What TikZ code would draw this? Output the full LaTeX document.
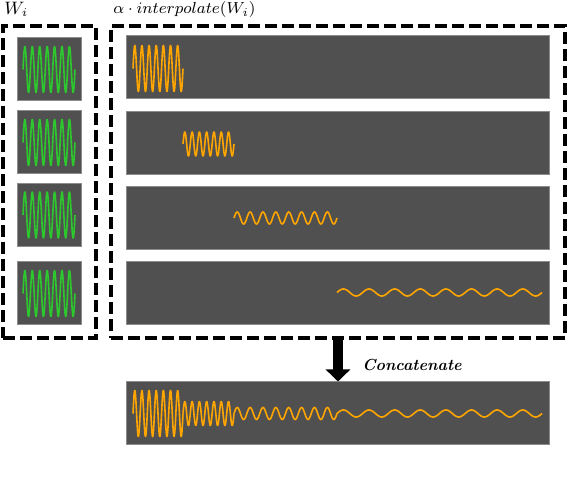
\documentclass[tikz,border=0pt]{standalone}
\usetikzlibrary{arrows.meta}

\definecolor{panelgray}{HTML}{505050}
\definecolor{panelline}{HTML}{8C8C8C}
\definecolor{siggreen}{HTML}{2DC82D}
\definecolor{sigorange}{HTML}{FFA500}

\tikzset{
  panel/.style={draw=panelline, line width=0.5pt, fill=panelgray, inner sep=0pt},
  smallpanel/.style={panel, minimum width=32pt, minimum height=31.5pt},
  widepanel/.style={panel, minimum width=211.5pt, minimum height=31.5pt},
  dashbox/.style={draw=black, line width=2pt, dash pattern=on 6pt off 2.5pt, inner sep=0pt},
  lbl/.style={font=\fontsize{8}{10}\selectfont, inner sep=0pt},
  bigarrow/.style={line width=5pt, -{Triangle[width=12pt,length=6pt]}},
}

% colour, x start, x end, centre y, amplitude, cycles
\newcommand{\sigwave}[6]{%
  \draw[#1, line width=0.8pt, line join=round]
    plot[domain=#2:#3, samples=250] (\x,{#4-#5*sin(360*#6/(#3-#2)*(\x-#2))});
}

\begin{document}
\begin{tikzpicture}[x=0.5pt, y=-0.5pt]
    \useasboundingbox (0,0) rectangle (568,480);

    % dashed groups
    \node[dashbox, minimum width=46.5pt, minimum height=156pt] (orig) at (49.5,182) {};
    \node[dashbox, minimum width=227pt, minimum height=156pt] (interp) at (338,182) {};

    % original windows, all the same
    \foreach \yc [count=\i] in {69.5,142.5,215,293.5} {
        \node[smallpanel] (w\i) at (49,\yc) {};
        \sigwave{siggreen}{23}{75}{\yc}{23}{7}
    }

    % interpolated windows
    \node[widepanel] (p1) at (337.5,67.5) {};
    \node[widepanel] (p2) at (337.5,143.5) {};
    \node[widepanel] (p3) at (337.5,218.5) {};
    \node[widepanel] (p4) at (337.5,293) {};
    \sigwave{sigorange}{133}{183}{68.5}{23}{7}
    \sigwave{sigorange}{183}{234}{144}{12}{7}
    \sigwave{sigorange}{234}{337}{218}{6}{8}
    \sigwave{sigorange}{337}{542}{292.5}{3.5}{8}

    % concatenated result
    \node[widepanel] (concat) at (337.5,413.5) {};
    \sigwave{sigorange}{133}{183}{413.5}{23}{7}
    \sigwave{sigorange}{183}{234}{413.5}{12}{7}
    \sigwave{sigorange}{234}{337}{413.5}{6}{8}
    \sigwave{sigorange}{337}{542}{413.5}{3.5}{8}

    \draw[bigarrow] (interp.south) -- (interp.south |- concat.north);

    % Labels
    \node[lbl, font=\fontsize{9}{11}\selectfont, anchor=west] (wlabel) at (4,9) {$W_i$};
    \node[lbl, anchor=west] (alabel) at (113,10) {$\alpha\cdot interpolate(W_i)$};
    \node[lbl, font=\fontsize{8}{10}\selectfont\bfseries\itshape] (cclabel) at (412,365) {Concatenate};

\end{tikzpicture}
\end{document}
